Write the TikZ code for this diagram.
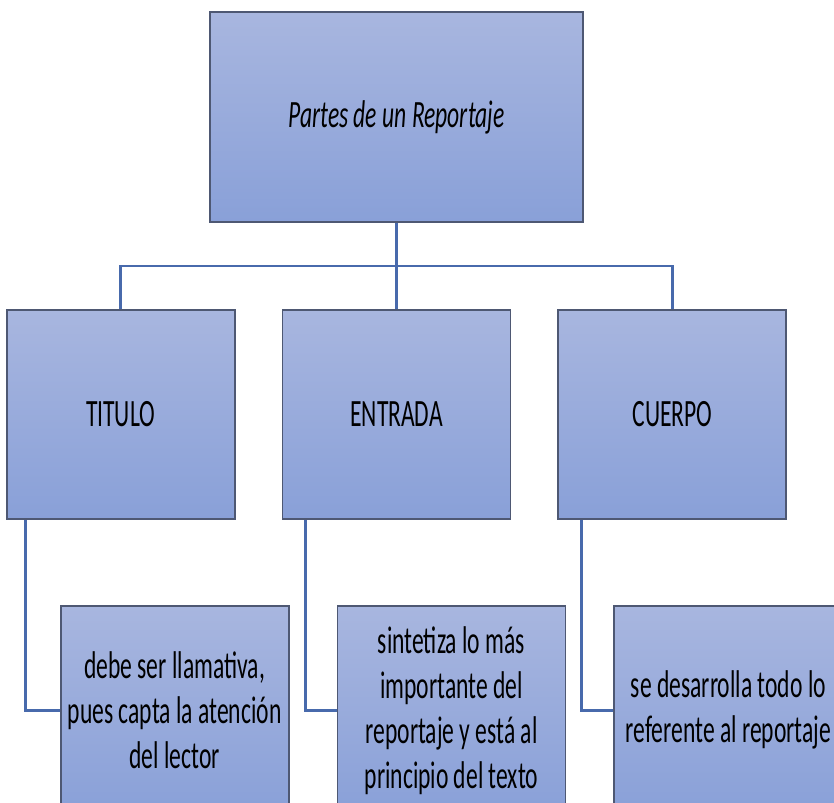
\documentclass[tikz,border=0pt]{standalone}
\usepackage{fontspec}
\setmainfont{Carlito}[FakeStretch=0.61]
\usepackage{tikz}
\usetikzlibrary{positioning}
\definecolor{BoxTop}{RGB}{168,182,223}
\definecolor{BoxBottom}{RGB}{137,160,216}
\definecolor{BoxEdge}{RGB}{78,88,115}
\definecolor{LinkBlue}{RGB}{72,106,172}
\protected\def\titlefont{\fontsize{22}{25.6}\selectfont\itshape}
\protected\def\partfont{\fontsize{22}{25.6}\selectfont}
\tikzset{
  mainbox/.style={draw=BoxEdge,top color=BoxTop,bottom color=BoxBottom,
    line width=1.1pt,minimum width=7.46cm,minimum height=4.2cm,align=center,
    font=\titlefont},
  partbox/.style={draw=BoxEdge,top color=BoxTop,bottom color=BoxBottom,
    line width=1.1pt,minimum width=4.56cm,minimum height=4.18cm,align=center,
    font=\partfont},
  infobox/.style={partbox,text width=4.4cm,inner xsep=0.08cm,align=flush center},
  link/.style={LinkBlue,line width=1.4pt}
}
\begin{document}
\begin{tikzpicture}[node distance=1.72cm]
      \useasboundingbox (0,0) rectangle (16.68,-16.06);
      \clip (0,0) rectangle (16.68,-16.06);
      \node[mainbox] (reportaje) at (7.93,-2.34) {Partes de un Reportaje};
      \node[partbox,below=of reportaje] (entrada) {ENTRADA};
      \node[partbox,left=0.92cm of entrada] (titulo) {TITULO};
      \node[partbox,right=0.92cm of entrada] (cuerpo) {CUERPO};
      \node[infobox,below=1.7cm of titulo,xshift=1.08cm] (tituloinfo) {debe ser llamativa,\\\mbox{pues capta la atención}\\del lector};
      \node[infobox,below=1.7cm of entrada,xshift=1.1cm] (entradainfo) {sintetiza lo más\\importante del\\reportaje y está al\\principio del texto};
      \node[infobox,below=1.7cm of cuerpo,xshift=1.12cm] (cuerpoinfo) {se desarrolla todo lo\\\mbox{referente al reportaje}};
      \draw[link] (reportaje) -- (entrada);
      \draw[link] (titulo.north) -- ++(0,0.86) -| (cuerpo.north);
      \draw[link] ([xshift=0.4cm]titulo.south west) |- (tituloinfo.west);
      \draw[link] ([xshift=0.48cm]entrada.south west) |- (entradainfo.west);
      \draw[link] ([xshift=0.48cm]cuerpo.south west) |- (cuerpoinfo.west);
    \end{tikzpicture}
\end{document}
